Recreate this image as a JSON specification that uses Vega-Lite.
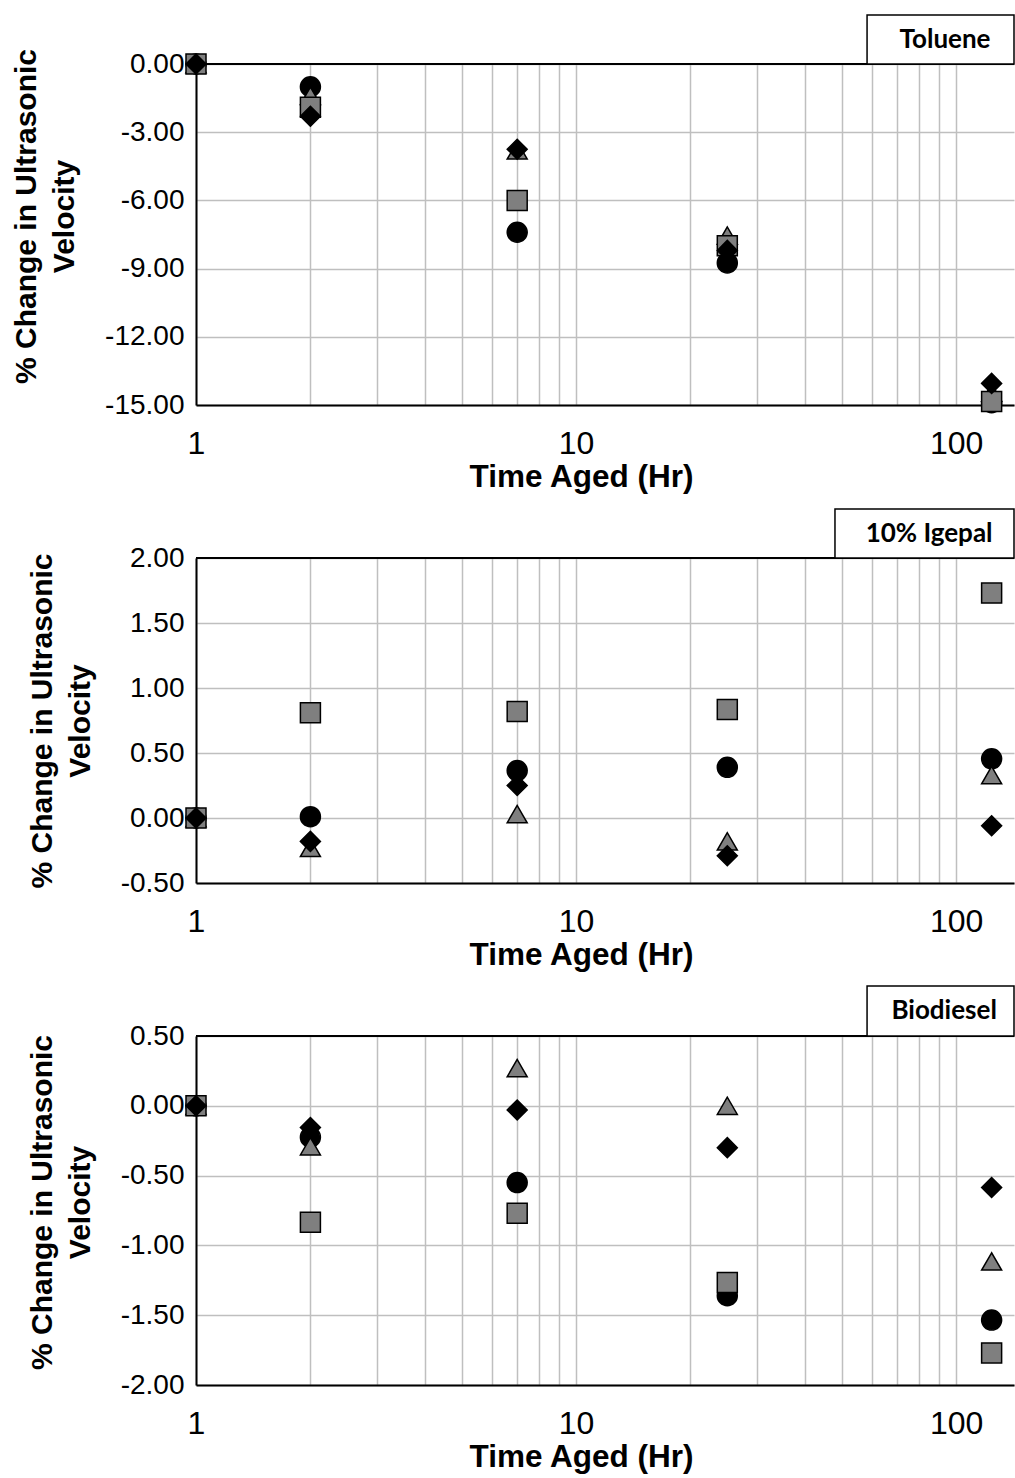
{
  "$schema": "https://vega.github.io/schema/vega-lite/v6.json",
  "padding": {"left": 11, "top": 14, "right": 0, "bottom": 5},
  "background": "white",
  "config": {
    "view": {"stroke": null},
    "font": "Arial",
    "axis": {
      "labelFont": "Arial",
      "titleFont": "Arial",
      "labelColor": "black",
      "titleColor": "black",
      "ticks": false,
      "grid": true,
      "domainColor": "black",
      "domainWidth": 2,
      "gridColor": "#bfbfbf",
      "gridWidth": 1.5,
      "titleFontWeight": "bold"
    },
    "axisX": {"labelFontSize": 32, "titleFontSize": 31.5},
    "axisY": {"labelFontSize": 28, "titleFontSize": 30}
  },
  "datasets": {
    "pts": [
      {"panel": "Toluene", "time": 1, "series": "Sample 1", "value": 0},
      {"panel": "Toluene", "time": 2, "series": "Sample 1", "value": -1.0},
      {"panel": "Toluene", "time": 7, "series": "Sample 1", "value": -7.4},
      {"panel": "Toluene", "time": 25, "series": "Sample 1", "value": -8.75},
      {"panel": "Toluene", "time": 124, "series": "Sample 1", "value": -14.9},
      {"panel": "Toluene", "time": 1, "series": "Sample 3", "value": 0},
      {"panel": "Toluene", "time": 2, "series": "Sample 3", "value": -1.4},
      {"panel": "Toluene", "time": 7, "series": "Sample 3", "value": -3.8},
      {"panel": "Toluene", "time": 25, "series": "Sample 3", "value": -7.55},
      {"panel": "Toluene", "time": 124, "series": "Sample 3", "value": -14.45},
      {"panel": "Toluene", "time": 1, "series": "Sample 2", "value": 0},
      {"panel": "Toluene", "time": 2, "series": "Sample 2", "value": -1.9},
      {"panel": "Toluene", "time": 7, "series": "Sample 2", "value": -6.0},
      {"panel": "Toluene", "time": 25, "series": "Sample 2", "value": -8.0},
      {"panel": "Toluene", "time": 124, "series": "Sample 2", "value": -14.85},
      {"panel": "Toluene", "time": 1, "series": "Sample 4", "value": 0},
      {"panel": "Toluene", "time": 2, "series": "Sample 4", "value": -2.3},
      {"panel": "Toluene", "time": 7, "series": "Sample 4", "value": -3.75},
      {"panel": "Toluene", "time": 25, "series": "Sample 4", "value": -8.2},
      {"panel": "Toluene", "time": 124, "series": "Sample 4", "value": -14.05},

      {"panel": "Igepal", "time": 1, "series": "Sample 1", "value": 0},
      {"panel": "Igepal", "time": 2, "series": "Sample 1", "value": 0.01},
      {"panel": "Igepal", "time": 7, "series": "Sample 1", "value": 0.365},
      {"panel": "Igepal", "time": 25, "series": "Sample 1", "value": 0.39},
      {"panel": "Igepal", "time": 124, "series": "Sample 1", "value": 0.455},
      {"panel": "Igepal", "time": 1, "series": "Sample 3", "value": 0},
      {"panel": "Igepal", "time": 2, "series": "Sample 3", "value": -0.23},
      {"panel": "Igepal", "time": 7, "series": "Sample 3", "value": 0.03},
      {"panel": "Igepal", "time": 25, "series": "Sample 3", "value": -0.18},
      {"panel": "Igepal", "time": 124, "series": "Sample 3", "value": 0.33},
      {"panel": "Igepal", "time": 1, "series": "Sample 2", "value": 0},
      {"panel": "Igepal", "time": 2, "series": "Sample 2", "value": 0.81},
      {"panel": "Igepal", "time": 7, "series": "Sample 2", "value": 0.82},
      {"panel": "Igepal", "time": 25, "series": "Sample 2", "value": 0.835},
      {"panel": "Igepal", "time": 124, "series": "Sample 2", "value": 1.73},
      {"panel": "Igepal", "time": 1, "series": "Sample 4", "value": 0},
      {"panel": "Igepal", "time": 2, "series": "Sample 4", "value": -0.18},
      {"panel": "Igepal", "time": 7, "series": "Sample 4", "value": 0.25},
      {"panel": "Igepal", "time": 25, "series": "Sample 4", "value": -0.29},
      {"panel": "Igepal", "time": 124, "series": "Sample 4", "value": -0.06},

      {"panel": "Biodiesel", "time": 1, "series": "Sample 1", "value": 0},
      {"panel": "Biodiesel", "time": 2, "series": "Sample 1", "value": -0.225},
      {"panel": "Biodiesel", "time": 7, "series": "Sample 1", "value": -0.55},
      {"panel": "Biodiesel", "time": 25, "series": "Sample 1", "value": -1.36},
      {"panel": "Biodiesel", "time": 124, "series": "Sample 1", "value": -1.535},
      {"panel": "Biodiesel", "time": 1, "series": "Sample 3", "value": 0},
      {"panel": "Biodiesel", "time": 2, "series": "Sample 3", "value": -0.29},
      {"panel": "Biodiesel", "time": 7, "series": "Sample 3", "value": 0.27},
      {"panel": "Biodiesel", "time": 25, "series": "Sample 3", "value": 0.0},
      {"panel": "Biodiesel", "time": 124, "series": "Sample 3", "value": -1.115},
      {"panel": "Biodiesel", "time": 1, "series": "Sample 2", "value": 0},
      {"panel": "Biodiesel", "time": 2, "series": "Sample 2", "value": -0.835},
      {"panel": "Biodiesel", "time": 7, "series": "Sample 2", "value": -0.77},
      {"panel": "Biodiesel", "time": 25, "series": "Sample 2", "value": -1.265},
      {"panel": "Biodiesel", "time": 124, "series": "Sample 2", "value": -1.77},
      {"panel": "Biodiesel", "time": 1, "series": "Sample 4", "value": 0},
      {"panel": "Biodiesel", "time": 2, "series": "Sample 4", "value": -0.155},
      {"panel": "Biodiesel", "time": 7, "series": "Sample 4", "value": -0.03},
      {"panel": "Biodiesel", "time": 25, "series": "Sample 4", "value": -0.3},
      {"panel": "Biodiesel", "time": 124, "series": "Sample 4", "value": -0.585}
    ],
    "labels": [
      {"panel": "Toluene", "label": "Toluene"},
      {"panel": "Igepal", "label": "10% Igepal"},
      {"panel": "Biodiesel", "label": "Biodiesel"}
    ]
  },
  "bounds": "flush",
  "spacing": 153,
  "vconcat": [
    {
      "width": 818,
      "height": 341,
      "layer": [
        {
          "data": {"name": "labels"},
          "transform": [{"filter": "datum.panel === 'Toluene'"}],
          "mark": {"type": "rule", "stroke": "black", "strokeWidth": 2},
          "encoding": {"y": {"datum": 0, "axis": {"grid": true}}}
        },
        {
          "data": {"name": "pts"},
          "transform": [{"filter": "datum.panel === 'Toluene'"}],
          "mark": {"type": "point", "filled": true, "size": 400, "stroke": "black", "strokeWidth": 1.5, "opacity": 1},
          "encoding": {
            "x": {"field": "time", "type": "quantitative", "scale": {"type": "log", "domain": [1, 142], "nice": false},
              "axis": {"grid": true, "values": [1,2,3,4,5,6,7,8,9,10,20,30,40,50,60,70,80,90,100], "labelExpr": "datum.value == 1 || datum.value == 10 || datum.value == 100 ? format(datum.value, 'd') : ''", "labelFlush": false, "labelOverlap": false, "labelPadding": 23, "title": "Time Aged (Hr)", "titlePadding": 2, "titleX": 385}},
            "y": {"field": "value", "type": "quantitative", "scale": {"domain": [-15, 0], "nice": false},
              "axis": {"grid": true, "values": [-15,-12,-9,-6,-3,0], "labelExpr": "replace(format(datum.value, '.2f'), '−', '-')", "labelPadding": 12, "title": ["% Change in Ultrasonic", "Velocity"], "titleLineHeight": 38, "titlePadding": 25, "titleY": 152}},
            "shape": {"field": "series", "type": "nominal", "scale": {"domain": ["Sample 1", "Sample 2", "Sample 3", "Sample 4"], "range": ["circle", "square", "triangle-up", "diamond"]}, "legend": null},
            "fill": {"field": "series", "type": "nominal", "scale": {"domain": ["Sample 1", "Sample 2", "Sample 3", "Sample 4"], "range": ["#000000", "#7f7f7f", "#7f7f7f", "#000000"]}, "legend": null}
          }
        },
        {
          "data": {"name": "labels"},
          "transform": [{"filter": "datum.panel === 'Toluene'"}],
          "mark": {"type": "rect", "fill": "white", "stroke": "black", "strokeWidth": 1.5},
          "encoding": {"x": {"datum": 58.3}, "x2": {"datum": 142}, "y": {"datum": 0}, "y2": {"datum": 2.16}}
        },
        {
          "data": {"name": "labels"},
          "transform": [{"filter": "datum.panel === 'Toluene'"}],
          "mark": {"type": "text", "font": "Lato", "fontWeight": "bold", "fontSize": 26, "color": "black", "baseline": "middle", "align": "center"},
          "encoding": {"x": {"datum": 93.5}, "y": {"datum": 1.06}, "text": {"field": "label"}}
        }
      ]
    },
    {
      "width": 818,
      "height": 325,
      "layer": [
        {
          "data": {"name": "labels"},
          "transform": [{"filter": "datum.panel === 'Igepal'"}],
          "mark": {"type": "rule", "stroke": "black", "strokeWidth": 2},
          "encoding": {"y": {"datum": 2, "axis": {"grid": true}}}
        },
        {
          "data": {"name": "pts"},
          "transform": [{"filter": "datum.panel === 'Igepal'"}],
          "mark": {"type": "point", "filled": true, "size": 400, "stroke": "black", "strokeWidth": 1.5, "opacity": 1},
          "encoding": {
            "x": {"field": "time", "type": "quantitative", "scale": {"type": "log", "domain": [1, 142], "nice": false},
              "axis": {"grid": true, "values": [1,2,3,4,5,6,7,8,9,10,20,30,40,50,60,70,80,90,100], "labelExpr": "datum.value == 1 || datum.value == 10 || datum.value == 100 ? format(datum.value, 'd') : ''", "labelFlush": false, "labelOverlap": false, "labelPadding": 23, "title": "Time Aged (Hr)", "titlePadding": 2, "titleX": 385}},
            "y": {"field": "value", "type": "quantitative", "scale": {"domain": [-0.5, 2], "nice": false},
              "axis": {"grid": true, "values": [-0.5, 0, 0.5, 1, 1.5, 2], "labelExpr": "replace(format(datum.value, '.2f'), '−', '-')", "labelPadding": 12, "title": ["% Change in Ultrasonic", "Velocity"], "titleLineHeight": 38, "titlePadding": 25}},
            "shape": {"field": "series", "type": "nominal", "scale": {"domain": ["Sample 1", "Sample 2", "Sample 3", "Sample 4"], "range": ["circle", "square", "triangle-up", "diamond"]}, "legend": null},
            "fill": {"field": "series", "type": "nominal", "scale": {"domain": ["Sample 1", "Sample 2", "Sample 3", "Sample 4"], "range": ["#000000", "#7f7f7f", "#7f7f7f", "#000000"]}, "legend": null}
          }
        },
        {
          "data": {"name": "labels"},
          "transform": [{"filter": "datum.panel === 'Igepal'"}],
          "mark": {"type": "rect", "fill": "white", "stroke": "black", "strokeWidth": 1.5},
          "encoding": {"x": {"datum": 48.0}, "x2": {"datum": 142}, "y": {"datum": 2}, "y2": {"datum": 2.377}}
        },
        {
          "data": {"name": "labels"},
          "transform": [{"filter": "datum.panel === 'Igepal'"}],
          "mark": {"type": "text", "font": "Lato", "fontWeight": "bold", "fontSize": 26, "color": "black", "baseline": "middle", "align": "center"},
          "encoding": {"x": {"datum": 84.9}, "y": {"datum": 2.185}, "text": {"field": "label"}}
        }
      ]
    },
    {
      "width": 818,
      "height": 349,
      "layer": [
        {
          "data": {"name": "labels"},
          "transform": [{"filter": "datum.panel === 'Biodiesel'"}],
          "mark": {"type": "rule", "stroke": "black", "strokeWidth": 2},
          "encoding": {"y": {"datum": 0.5, "axis": {"grid": true}}}
        },
        {
          "data": {"name": "pts"},
          "transform": [{"filter": "datum.panel === 'Biodiesel'"}],
          "mark": {"type": "point", "filled": true, "size": 400, "stroke": "black", "strokeWidth": 1.5, "opacity": 1},
          "encoding": {
            "x": {"field": "time", "type": "quantitative", "scale": {"type": "log", "domain": [1, 142], "nice": false},
              "axis": {"grid": true, "values": [1,2,3,4,5,6,7,8,9,10,20,30,40,50,60,70,80,90,100], "labelExpr": "datum.value == 1 || datum.value == 10 || datum.value == 100 ? format(datum.value, 'd') : ''", "labelFlush": false, "labelOverlap": false, "labelPadding": 23, "title": "Time Aged (Hr)", "titlePadding": 2, "titleX": 385}},
            "y": {"field": "value", "type": "quantitative", "scale": {"domain": [-2, 0.5], "nice": false},
              "axis": {"grid": true, "values": [-2, -1.5, -1, -0.5, 0, 0.5], "labelExpr": "replace(format(datum.value, '.2f'), '−', '-')", "labelPadding": 12, "title": ["% Change in Ultrasonic", "Velocity"], "titleLineHeight": 38, "titlePadding": 25, "titleY": 166}},
            "shape": {"field": "series", "type": "nominal", "scale": {"domain": ["Sample 1", "Sample 2", "Sample 3", "Sample 4"], "range": ["circle", "square", "triangle-up", "diamond"]}, "legend": null},
            "fill": {"field": "series", "type": "nominal", "scale": {"domain": ["Sample 1", "Sample 2", "Sample 3", "Sample 4"], "range": ["#000000", "#7f7f7f", "#7f7f7f", "#000000"]}, "legend": null}
          }
        },
        {
          "data": {"name": "labels"},
          "transform": [{"filter": "datum.panel === 'Biodiesel'"}],
          "mark": {"type": "rect", "fill": "white", "stroke": "black", "strokeWidth": 1.5},
          "encoding": {"x": {"datum": 58.3}, "x2": {"datum": 142}, "y": {"datum": 0.5}, "y2": {"datum": 0.858}}
        },
        {
          "data": {"name": "labels"},
          "transform": [{"filter": "datum.panel === 'Biodiesel'"}],
          "mark": {"type": "text", "font": "Lato", "fontWeight": "bold", "fontSize": 26, "color": "black", "baseline": "middle", "align": "center"},
          "encoding": {"x": {"datum": 93.0}, "y": {"datum": 0.679}, "text": {"field": "label"}}
        }
      ]
    }
  ]
}
